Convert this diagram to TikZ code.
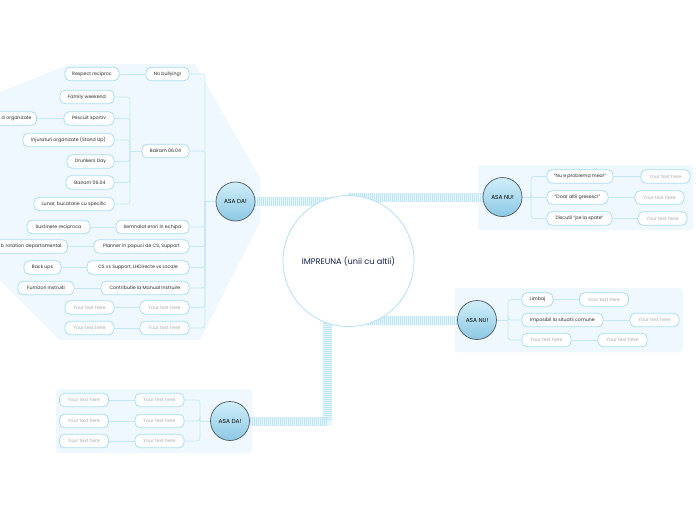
\documentclass[tikz,border=0pt]{standalone}
\usepackage{fontspec}
\setmainfont{Poppins}
\usetikzlibrary{calc}
\definecolor{linkc}{RGB}{196,232,248}
\definecolor{boxc}{RGB}{170,221,245}
\definecolor{bgc}{RGB}{239,248,254}
\definecolor{stripec}{RGB}{190,230,250}
\definecolor{stripebg}{RGB}{232,246,253}
\definecolor{txtc}{RGB}{40,40,40}
\definecolor{phc}{RGB}{170,170,170}
\definecolor{navy}{RGB}{20,30,70}
\definecolor{circtop}{RGB}{208,238,250}
\definecolor{circbot}{RGB}{140,200,228}
\definecolor{circline}{RGB}{80,88,96}
\definecolor{mainline}{RGB}{180,224,246}
\pgfdeclarelayer{bg}\pgfdeclarelayer{edges}\pgfsetlayers{bg,edges,main}
\tikzset{
 box/.style={draw=boxc, line width=0.8pt, fill=white, rounded corners=5pt, minimum height=13.5pt, inner sep=0pt, font=\fontsize{4.7}{5}\selectfont, text=txtc},
 ph/.style={box, text=phc, minimum width=49pt},
 hub/.style={circle, draw=circline, line width=0.7pt, top color=circtop, bottom color=circbot, minimum size=39pt, inner sep=0pt, font=\fontsize{5.8}{6}\selectfont, text=black},
 link/.style={draw=linkc, line width=0.8pt, rounded corners=3pt},
 stripeback/.style={draw=stripebg, line width=9pt},
 stripe/.style={draw=stripec, line width=9pt, dash pattern=on 1.1pt off 0.9pt},
 area/.style={fill=bgc, draw=none},
}
\begin{document}
\begin{tikzpicture}[x=1pt,y=-1pt]
\clip (0,0) rectangle (696,520);
% ---------- nodes ----------
\node[circle, draw=mainline, line width=0.8pt, fill=white, minimum size=131pt, inner sep=0pt, font=\fontsize{8.2}{9}\selectfont, text=navy] (main) at (348.5,261) {IMPREUNA (unii cu altii)};
\coordinate (mb) at (327,261);

% left cluster
\node[hub] (asaL) at (235.5,201.5) {ASA DA!};
\coordinate (tL) at (205,201.5);
\node[box, minimum width=54pt] (respect) at (92,74) {Respect reciproc};
\node[box, minimum width=43pt] (nobully) at (167.5,74) {No bullying!};
\node[box, minimum width=54pt] (family) at (87,97) {Family weekend};
\node[box, minimum width=50pt] (pescuit) at (89,118.5) {Pescuit sportiv};
\node[box, anchor=east, text width=80pt, align=right, inner xsep=5pt] (organiz) at (37,118.5) {d organizate};
\node[box, minimum width=91pt] (injur) at (68.5,140) {Injuraturi organizate (Stand Up)};
\node[box, minimum width=47pt] (drunk) at (90.5,161.5) {Drunkers Day};
\node[box, minimum width=48pt] (bairamC) at (90,182.5) {Bairam 06.04};
\node[box, minimum width=47pt] (bairamP) at (165.5,151) {Bairam 06.04};
\coordinate (tB) at (130,151);
\node[box, minimum width=80pt] (lunar) at (74,204) {Lunar, bucatarie cu specific};
\node[box, minimum width=63pt] (sust) at (58.5,227) {Sustinere reciproca};
\node[box, minimum width=73pt] (semn) at (152.5,227) {Semnalat erori in echipa};
\node[box, anchor=east, text width=100pt, align=right, inner xsep=5pt] (jobrot) at (68,246.5) {b rotation departamental.};
\node[box, minimum width=95pt] (planner) at (141.5,246.5) {Planner in papuci de CS, Support};
\node[box, minimum width=37pt] (backups) at (42.5,267.5) {Back ups};
\node[box, minimum width=102pt] (csvs) at (138,267.5) {CS vs Support, LHDirecte vs Locale};
\node[box, minimum width=56pt] (furniz) at (46,288) {Furnizori instruiti};
\node[box, minimum width=88pt] (contrib) at (145,288) {Contributie la Manual Instruire};
\node[ph] (ytc1) at (89.5,307.5) {Your text here};
\node[ph] (ytp1) at (164.5,307.5) {Your text here};
\node[ph] (ytc2) at (89.5,328) {Your text here};
\node[ph] (ytp2) at (164.5,328) {Your text here};

% right top cluster
\node[hub] (asaR1) at (502.5,197) {ASA NU!};
\coordinate (tR1) at (531,197);
\node[box, minimum width=66pt] (nu) at (580,176.5) {"Nu e problema mea!"};
\node[ph] (nuY) at (665.5,176.5) {Your text here};
\node[box, minimum width=61pt] (doar) at (577.5,197.5) {"Doar altii gresesc!"};
\node[ph] (doarY) at (659.5,197.5) {Your text here};
\node[box, minimum width=65pt] (disc) at (579.5,218.5) {Discutii "pe la spate"};
\node[ph] (discY) at (662.5,218.5) {Your text here};

% right bottom cluster
\node[hub] (asaR2) at (477,320) {ASA NU!};
\coordinate (tR2) at (508,320);
\node[box, minimum width=31pt] (limbaj) at (537.5,299.5) {Limbaj};
\node[ph] (limbajY) at (604,299.5) {Your text here};
\node[box, minimum width=81pt] (impos) at (562.5,320) {Imposibil la situatii comune};
\node[ph] (imposY) at (654.5,320) {Your text here};
\node[ph] (r2p) at (546.5,340) {Your text here};
\node[ph] (r2c) at (622.5,340) {Your text here};

% bottom left cluster
\node[hub] (asaB) at (230,421) {ASA DA!};
\coordinate (tBL) at (200,421);
\node[ph] (bp1) at (159.5,400) {Your text here};
\node[ph] (bp2) at (159.5,421) {Your text here};
\node[ph] (bp3) at (159.5,441) {Your text here};
\node[ph] (bc1) at (84,400) {Your text here};
\node[ph] (bc2) at (84,421) {Your text here};
\node[ph] (bc3) at (84,441) {Your text here};

% ---------- backgrounds ----------
\begin{pgfonlayer}{bg}
\fill[white] (0,0) rectangle (696,520);
\fill[area] (70,64) -- (195,64) -- (260,178) -- (260,222) -- (200,340) -- (60,340) -- (0,280) -- (0,92) -- cycle;
\fill[area, rounded corners=3pt] (478,165) rectangle (693,230);
\fill[area, rounded corners=3pt] (455,288) rectangle (683,352);
\fill[area, rounded corners=3pt] (56,389) rectangle (252,453);
\end{pgfonlayer}

% ---------- connectors ----------
\begin{pgfonlayer}{edges}
\draw[stripeback] (asaL) -- (asaL -| main.center);
\draw[stripe] (asaL) -- (asaL -| main.center);
\draw[stripeback] (asaR1) -- (asaR1 -| main.center);
\draw[stripe] (asaR1) -- (asaR1 -| main.center);
\draw[stripeback] (asaR2) -- (asaR2 -| main.center);
\draw[stripe] (asaR2) -- (asaR2 -| main.center);
\draw[stripeback] (asaB) -| (mb);
\draw[stripe] (asaB) -| (mb);

\draw[link] (respect) -- (nobully);
\foreach \p in {nobully,bairamP,semn,planner,csvs,contrib,ytp1,ytp2}
  \draw[link] (\p.east) -| (tL);
\draw[link] (tL) -- (asaL);
\foreach \c in {family,pescuit,injur,drunk,bairamC,lunar}
  \draw[link] (\c.east) -| (tB);
\draw[link] (tB) -- (bairamP);
\draw[link] (organiz) -- (pescuit);
\draw[link] (sust) -- (semn);
\draw[link] (jobrot) -- (planner);
\draw[link] (backups) -- (csvs);
\draw[link] (furniz) -- (contrib);
\draw[link] (ytc1) -- (ytp1);
\draw[link] (ytc2) -- (ytp2);

\draw[link] (asaR1) -- (tR1);
\foreach \p in {nu,doar,disc}
  \draw[link] (tR1) |- (\p.west);
\draw[link] (nu) -- (nuY);
\draw[link] (doar) -- (doarY);
\draw[link] (disc) -- (discY);

\draw[link] (asaR2) -- (tR2);
\foreach \p in {limbaj,impos,r2p}
  \draw[link] (tR2) |- (\p.west);
\draw[link] (limbaj) -- (limbajY);
\draw[link] (impos) -- (imposY);
\draw[link] (r2p) -- (r2c);

\foreach \p in {bp1,bp2,bp3}
  \draw[link] (\p.east) -| (tBL);
\draw[link] (tBL) -- (asaB);
\draw[link] (bc1) -- (bp1);
\draw[link] (bc2) -- (bp2);
\draw[link] (bc3) -- (bp3);
\end{pgfonlayer}
\end{tikzpicture}
\end{document}
